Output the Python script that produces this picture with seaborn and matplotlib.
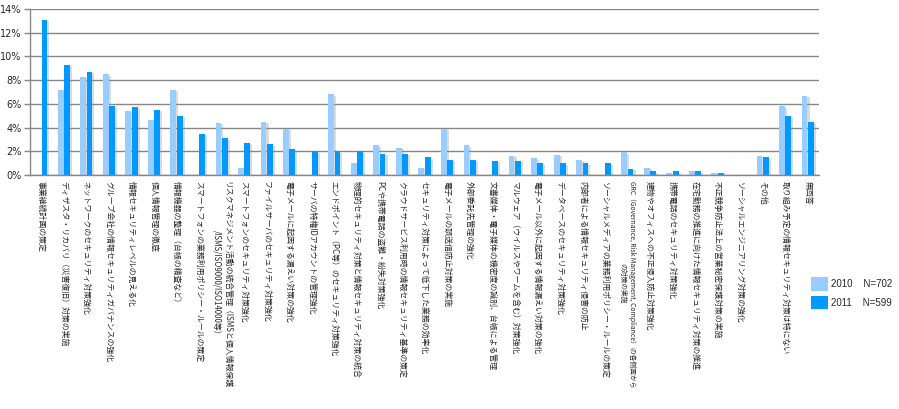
import numpy as np
import pandas as pd
import seaborn as sns
import matplotlib.pyplot as plt
import matplotlib.patheffects as pe
from matplotlib.patches import Patch

# Categories (x axis labels)
categories = [
    "事業継続計画の策定",
    "ディザスタ・リカバリ（災害復旧）対策の実施",
    "ネットワークのセキュリティ対策強化",
    "グループ会社の情報セキュリティガバナンスの強化",
    "情報セキュリティレベルの見える化",
    "個人情報管理の徹底",
    "情報機器の整理（台帳の精査など）",
    "スマートフォンの業務利用ポリシー・ルールの策定",
    "リスクマネジメント活動の統合管理（ISMSと個人情報保護\n/ISMS/ISO9000/ISO14000等）",
    "スマートフォンのセキュリティ対策強化",
    "ファイルサーバのセキュリティ対策強化",
    "電子メールに起因する漏えい対策の強化",
    "サーバの特権IDアカウントの管理強化",
    "エンドポイント（PC等）のセキュリティ対策強化",
    "物理的セキュリティ対策と情報セキュリティ対策の統合",
    "PCや携帯電話の盗難・紛失対策強化",
    "クラウドサービス利用時の情報セキュリティ基準の策定",
    "セキュリティ対策によって低下した業務の効率化",
    "電子メールの誤送信防止対策の実施",
    "外部委託先管理の強化",
    "文書媒体・電子媒体の機密度の識別、台帳による管理",
    "マルウェア（ウイルスやワームを含む）対策強化",
    "電子メール以外に起因する情報漏えい対策の強化",
    "データベースのセキュリティ対策強化",
    "内部者による情報セキュリティ侵害の防止",
    "ソーシャルメディアの業務利用ポリシー・ルールの策定",
    "GRC（Governance, Risk Management, Compliance）の各側面から\nの対策の実施",
    "建物やオフィスへの不正侵入防止対策強化",
    "携帯電話のセキュリティ対策強化",
    "在宅勤務の推進に向けた情報セキュリティ対策の推進",
    "不正競争防止法上の営業秘密保護対策の実施",
    "ソーシャルエンジニアリング対策の強化",
    "その他",
    "取り組み予定の情報セキュリティ対策は特にない",
    "無回答",
]

# Percent values (NaN = not asked that year)
values_2010 = [np.nan, 7.2, 8.3, 8.5, 5.4, 4.6, 7.2, np.nan, 4.4, 0.6,
               4.5, 3.9, np.nan, 6.8, 1.0, 2.5, 2.3, 0.6, 3.9, 2.5,
               np.nan, 1.6, 1.4, 1.7, 1.3, np.nan, 1.9, 0.6, 0.2, 0.3,
               0.2, np.nan, 1.6, 5.8, 6.7]
values_2011 = [13.1, 9.3, 8.7, 5.8, 5.7, 5.5, 5.0, 3.5, 3.1, 2.7,
               2.6, 2.2, 2.0, 2.0, 2.0, 1.8, 1.8, 1.5, 1.3, 1.3,
               1.2, 1.2, 1.0, 1.0, 1.0, 1.0, 0.5, 0.3, 0.3, 0.3,
               0.2, 0.0, 1.5, 5.0, 4.5]

years = ["2010", "2011"]
legend_labels = ["2010    N=702", "2011    N=599"]
colors = ["#99CCFF", "#0099FF"]

df = pd.DataFrame({
    "category": categories * 2,
    "year": ["2010"] * len(categories) + ["2011"] * len(categories),
    "value": values_2010 + values_2011,
})

sns.set_style("white")
plt.rcParams["font.family"] = ["Noto Sans CJK JP", "DejaVu Sans"]

fig = plt.figure(figsize=(8.99, 4.09), dpi=100)
ax = fig.add_axes([30 / 899, 1 - 175 / 409, 789 / 899, 166 / 409])

sns.barplot(data=df, x="category", y="value", hue="year", hue_order=years,
            order=categories, palette=colors, width=0.56, gap=0.08,
            saturation=1, legend=False, ax=ax)

shadow = [pe.SimplePatchShadow(offset=(1.5, -1), shadow_rgbFace="#999999", alpha=0.35),
          pe.Normal()]
for bar in ax.patches:
    bar.set_edgecolor("none")
    bar.set_path_effects(shadow)

ax.set_ylim(0, 14)
ax.set_xlim(-0.5, len(categories) - 0.5)
ax.set_yticks(range(0, 15, 2))
ax.set_yticklabels([f"{v}%" for v in range(0, 15, 2)], fontsize=7, family="DejaVu Sans")
ax.yaxis.grid(True, color="#868686", linewidth=1)
ax.set_axisbelow(True)

ax.set_xticks(range(len(categories)))
ax.set_xticklabels(categories, rotation=-90, fontsize=5.7, ha="center", va="top",
                   multialignment="center")
# the GRC label has long latin runs; keep it inside the figure
ax.get_xticklabels()[26].set_fontsize(4.9)
ax.set_xticks(np.arange(-0.5, len(categories), 1), minor=True)
ax.tick_params(axis="x", which="major", length=0, pad=4)
ax.tick_params(axis="x", which="minor", length=4, color="#868686", width=1)
ax.tick_params(axis="y", length=4, color="#868686", width=1, pad=2, left=True)
ax.set_xlabel("")
ax.set_ylabel("")

for side in ["top", "right"]:
    ax.spines[side].set_visible(False)
for side in ["left", "bottom"]:
    ax.spines[side].set_color("#868686")
    ax.spines[side].set_linewidth(1)

handles = [Patch(facecolor=c, edgecolor="none") for c in colors]
fig.legend(handles, legend_labels, loc="upper left", bbox_to_anchor=(807 / 899, 1 - 273 / 409),
           frameon=False, handlelength=1.8, handleheight=1.8,
           handletextpad=0.3, labelspacing=0.5, borderaxespad=0,
           prop={"family": "Liberation Sans", "size": 7})

fig.savefig("out.png", dpi=100)
